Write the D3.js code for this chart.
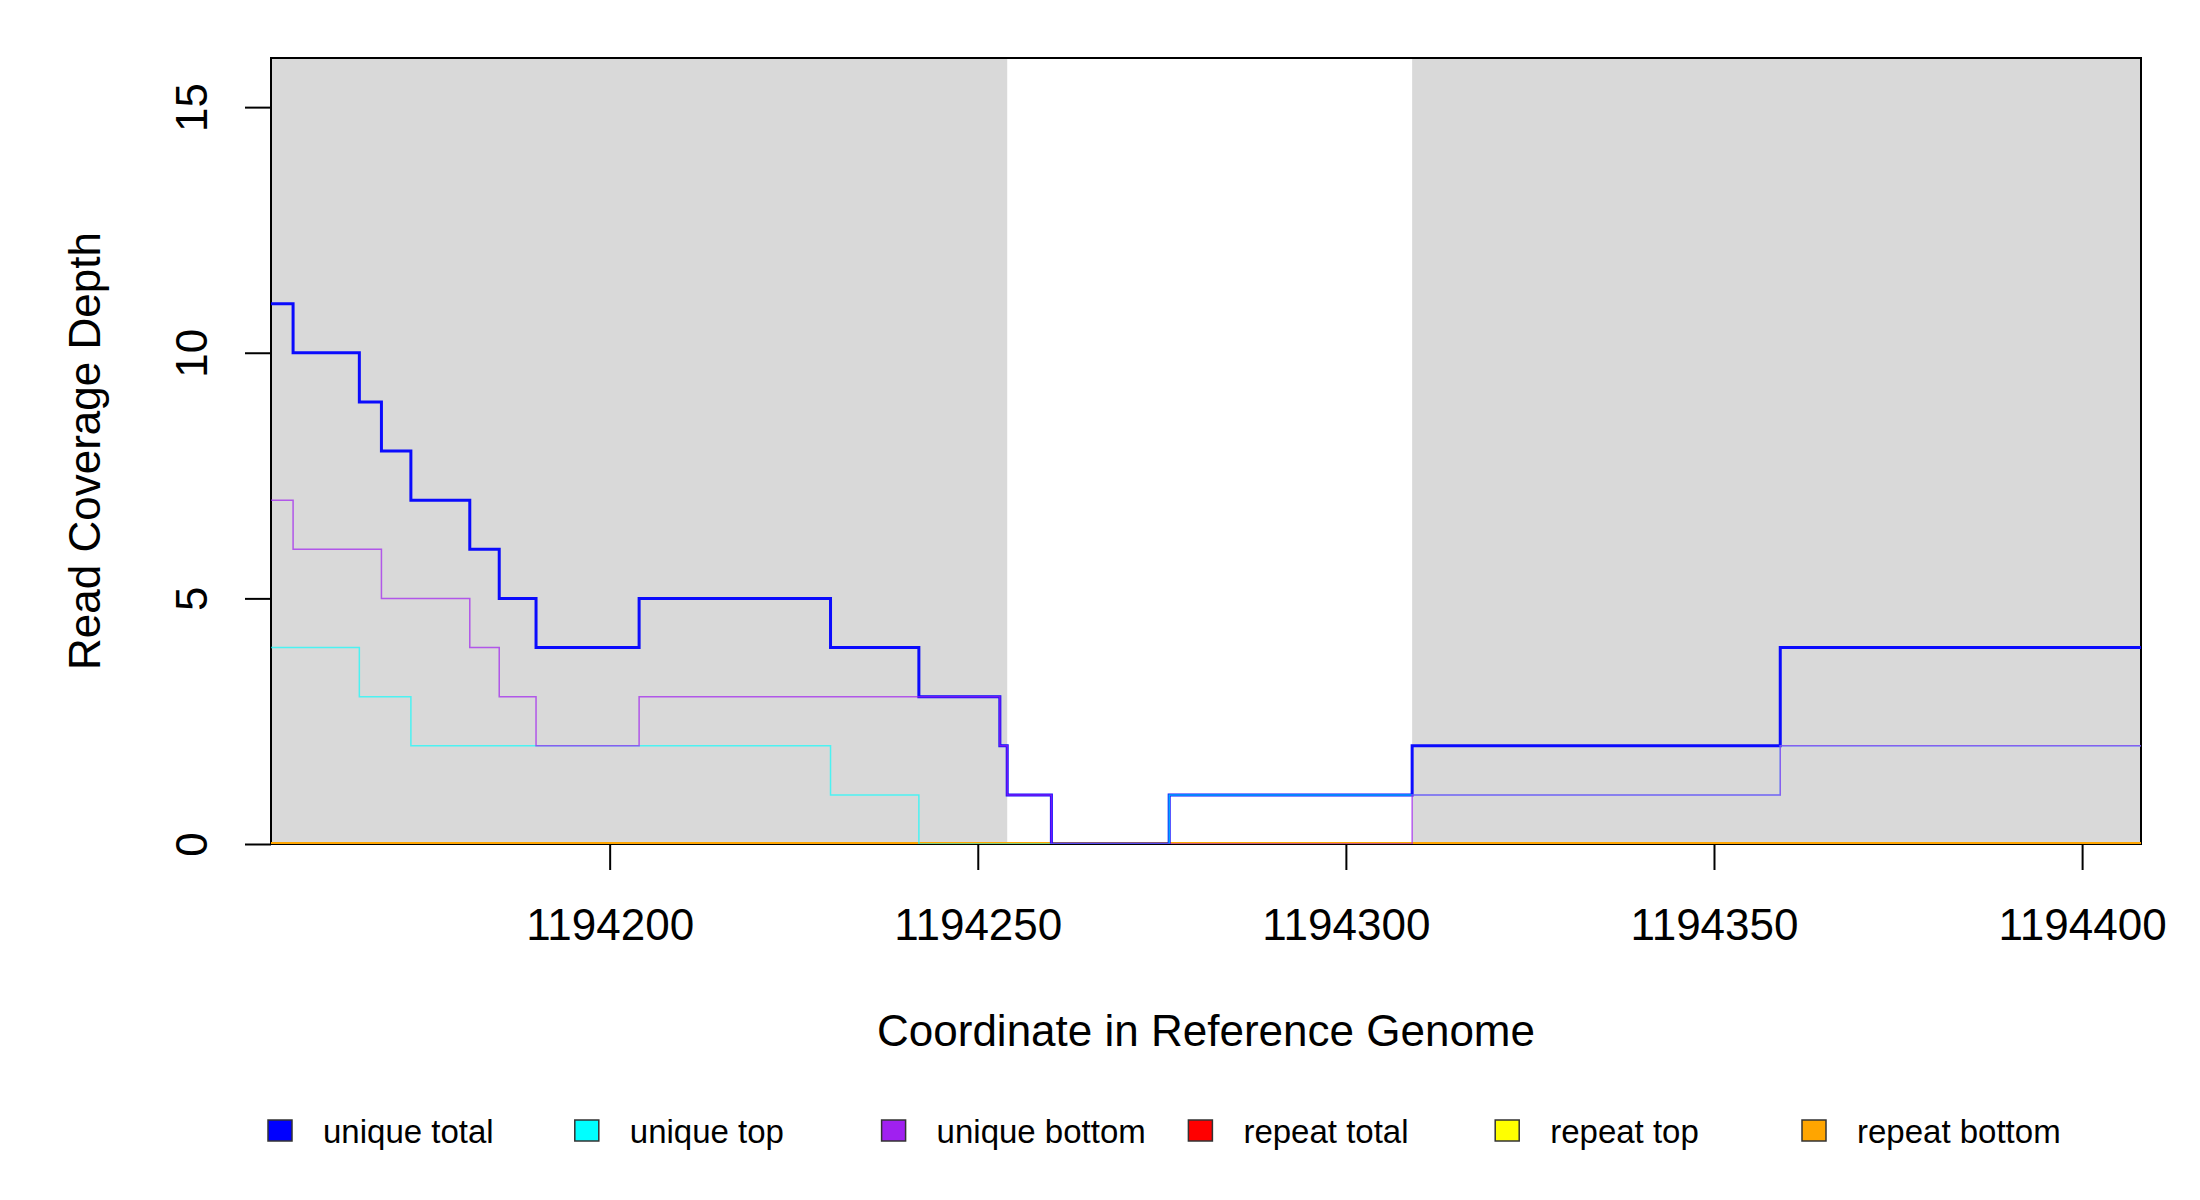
<!DOCTYPE html>
<html>
<head>
<meta charset="utf-8">
<script src="https://cdn.jsdelivr.net/npm/d3@7"></script>
<style>
  body { margin: 0; background: #fff; }
  svg { display: block; font-family: "Liberation Sans", Arial, sans-serif; }
</style>
</head>
<body>
<svg id="chart" width="2200" height="1200"></svg>
<script>
// Data (step breakpoints)
const COORDS = [1194154, 1194157, 1194166, 1194169, 1194173, 1194181, 1194185, 1194190, 1194204,
  1194230, 1194242, 1194253, 1194254, 1194260, 1194276, 1194309, 1194359, 1194408]
const UNIQUE_TOTAL = [11, 10, 9, 8, 7, 6, 5, 4, 5, 4, 3, 2, 1, 0, 1, 2, 4, 4]
const UNIQUE_TOP = [4, 4, 3, 3, 2, 2, 2, 2, 2, 1, 0, 0, 0, 0, 1, 1, 2, 2]
const UNIQUE_BOTTOM = [7, 6, 6, 5, 5, 4, 3, 2, 3, 3, 3, 2, 1, 0, 0, 1, 2, 2]
const REPEAT_TOTAL = [0, 0, 0, 0, 0, 0, 0, 0, 0, 0, 0, 0, 0, 0, 0, 0, 0, 0]
const REPEAT_TOP = [0, 0, 0, 0, 0, 0, 0, 0, 0, 0, 0, 0, 0, 0, 0, 0, 0, 0]
const REPEAT_BOTTOM = [0, 0, 0, 0, 0, 0, 0, 0, 0, 0, 0, 0, 0, 0, 0, 0, 0, 0]

// shaded (gray) spans of the reference
const SHADED = [[1194154, 1194254], [1194309, 1194408]]

const X_TICKS = [1194200, 1194250, 1194300, 1194350, 1194400]
const Y_TICKS = [0, 5, 10, 15]

const SERIES_NAMES = ['unique total', 'unique top', 'unique bottom', 'repeat total', 'repeat top', 'repeat bottom']
const SERIES_COLORS = ['#0000ff', '#00ffff', '#a020f0', '#ff0000', '#ffff00', '#ffa500']

let svg = d3.select('#chart')

let plotLeft = 271, plotRight = 2141, plotTop = 58, plotBottom = 844

let x = d3.scaleLinear().domain([1194154, 1194408]).range([plotLeft, plotRight])
let y = d3.scaleLinear().domain([0, 16]).range([plotBottom, plotTop])

// clip lines to the plot region
svg.append('clipPath').attr('id', 'plot-clip')
  .append('rect')
  .attr('x', plotLeft).attr('y', plotTop - 2)
  .attr('width', plotRight - plotLeft).attr('height', plotBottom - plotTop + 2)

// gray background spans
svg.selectAll('rect.shade')
  .data(SHADED)
  .enter()
  .append('rect')
  .attr('class', 'shade')
  .attr('x', d => x(d[0]))
  .attr('y', plotTop)
  .attr('width', d => x(d[1]) - x(d[0]))
  .attr('height', plotBottom - plotTop)
  .attr('fill', '#d9d9d9')

// plot box
svg.append('rect')
  .attr('x', plotLeft).attr('y', plotTop)
  .attr('width', plotRight - plotLeft).attr('height', plotBottom - plotTop)
  .attr('fill', 'none')
  .attr('stroke', '#000')
  .attr('stroke-width', 2)

// step lines: repeats first, uniques on top
let line = d3.line()
  .x(d => x(d[0]))
  .y(d => y(d[1]))
  .curve(d3.curveStepAfter)

let layers = [
  { values: REPEAT_TOTAL, color: SERIES_COLORS[3], width: 4, opacity: 1 },
  { values: REPEAT_TOP, color: SERIES_COLORS[4], width: 4, opacity: 1 },
  { values: REPEAT_BOTTOM, color: SERIES_COLORS[5], width: 4, opacity: 1 },
  { values: UNIQUE_TOTAL, color: SERIES_COLORS[0], width: 3, opacity: 0.95 },
  { values: UNIQUE_TOP, color: SERIES_COLORS[1], width: 1.5, opacity: 0.65 },
  { values: UNIQUE_BOTTOM, color: SERIES_COLORS[2], width: 1.5, opacity: 0.7 }
]

svg.append('g')
  .attr('clip-path', 'url(#plot-clip)')
  .selectAll('path')
  .data(layers)
  .enter()
  .append('path')
  .attr('d', s => line(COORDS.map((c, i) => [c, s.values[i]])))
  .attr('fill', 'none')
  .attr('stroke', s => s.color)
  .attr('stroke-width', s => s.width)
  .attr('stroke-opacity', s => s.opacity)

// x axis
let xAxis = svg.append('g')
  .attr('transform', `translate(0, ${plotBottom})`)
  .call(d3.axisBottom(x).tickValues(X_TICKS).tickSize(26).tickPadding(39).tickFormat(d3.format('d')))
xAxis.select('.domain').remove()
xAxis.selectAll('line').attr('stroke', '#000').attr('stroke-width', 2)
xAxis.selectAll('text').attr('font-size', '44px').attr('font-family', '"Liberation Sans", Arial, sans-serif').attr('fill', '#000')

// y axis, labels rotated like R's default
let yAxis = svg.append('g')
  .attr('transform', `translate(${plotLeft}, 0)`)
  .call(d3.axisLeft(y).tickValues(Y_TICKS).tickSize(26))
yAxis.select('.domain').remove()
yAxis.selectAll('line').attr('stroke', '#000').attr('stroke-width', 2)
yAxis.selectAll('text')
  .attr('x', null)
  .attr('dy', null)
  .attr('text-anchor', 'middle')
  .attr('transform', `translate(${207 - plotLeft}, 0) rotate(-90)`)
  .attr('font-size', '44px')
  .attr('font-family', '"Liberation Sans", Arial, sans-serif')
  .attr('fill', '#000')

// axis titles
svg.append('text')
  .attr('x', (plotLeft + plotRight) / 2)
  .attr('y', 1046)
  .attr('text-anchor', 'middle')
  .attr('font-size', '44px')
  .text('Coordinate in Reference Genome')

svg.append('text')
  .attr('transform', `translate(100, ${(plotTop + plotBottom) / 2}) rotate(-90)`)
  .attr('text-anchor', 'middle')
  .attr('font-size', '44px')
  .text('Read Coverage Depth')

// legend
let groups = svg.selectAll('g.legend')
  .data(SERIES_NAMES)
  .enter()
  .append('g')
  .attr('class', 'legend')
  .attr('transform', (d, i) => `translate(${268 + i * 306.8}, 1120)`)

groups.append('rect')
  .attr('width', 24)
  .attr('height', 21)
  .attr('fill', (d, i) => SERIES_COLORS[i])
  .attr('stroke', '#333')
  .attr('stroke-width', 1.5)

groups.append('text')
  .attr('x', 55)
  .attr('y', 23)
  .attr('font-size', '33px')
  .text(d => d)
</script>
</body>
</html>
